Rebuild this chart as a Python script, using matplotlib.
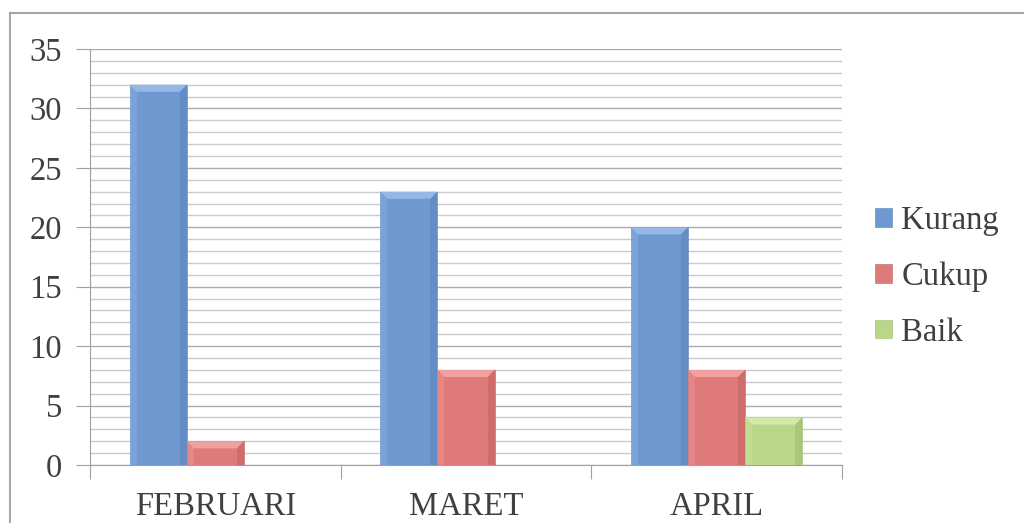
import matplotlib.pyplot as plt
import numpy as np
from matplotlib.patches import Polygon, Rectangle
from matplotlib.ticker import MultipleLocator

categories = ["FEBRUARI", "MARET", "APRIL"]
series = ["Kurang", "Cukup", "Baik"]
kurang = [32, 23, 20]
cukup = [2, 8, 8]
baik = [0, 0, 4]

colors = ["#6E99D0", "#DE7A79", "#BAD688"]
light = ["#94B8E6", "#F0A09F", "#D4E9AC"]
dark = ["#5A83BA", "#C2615F", "#9CB86C"]

plt.rcParams["font.family"] = ["Liberation Serif", "DejaVu Serif"]

fig = plt.figure(figsize=(10.24, 5.23), dpi=100)
ax = fig.add_axes([90 / 1024, 1 - 465 / 523, 752 / 1024, 416 / 523])

# chart frame
fig.patches.append(Rectangle((10 / 1024, -0.05), 1.1, 1 - 13 / 523 + 0.05,
                             transform=fig.transFigure, fill=False,
                             edgecolor="#A6A6A6", linewidth=1.5))

x = np.arange(len(categories))
w = 0.228
data = [kurang, cukup, baik]
bx = 0.028  # bevel depth in x (data units)
by = 0.6    # bevel depth in y

for i, (vals, name) in enumerate(zip(data, series)):
    bars = ax.bar(x + (i - 1) * w, vals, w, color=colors[i], label=name,
                  edgecolor=dark[i], linewidth=0.4, zorder=3)
    for b in bars:
        h = b.get_height()
        if h <= 0:
            continue
        x0, x1 = b.get_x(), b.get_x() + b.get_width()
        d = min(by, h / 3)
        ax.add_patch(Polygon([(x0, h), (x1, h), (x1 - bx, h - d), (x0 + bx, h - d)],
                             closed=True, facecolor=light[i], edgecolor="none",
                             zorder=4))
        ax.add_patch(Polygon([(x1, h), (x1, 0), (x1 - bx, 0), (x1 - bx, h - d)],
                             closed=True, facecolor=dark[i], edgecolor="none",
                             alpha=0.5, zorder=4))
        ax.add_patch(Polygon([(x0, h), (x0, 0), (x0 + bx, 0), (x0 + bx, h - d)],
                             closed=True, facecolor=light[i], edgecolor="none",
                             alpha=0.35, zorder=4))

ax.set_xlim(-0.5, 2.5)
ax.set_ylim(0, 35)
ax.yaxis.set_major_locator(MultipleLocator(5))
ax.yaxis.set_minor_locator(MultipleLocator(1))
ax.grid(axis="y", which="minor", color="#CBCBCB", linewidth=1.0, zorder=0)
ax.grid(axis="y", which="major", color="#ADADAD", linewidth=1.0, zorder=0)
ax.set_axisbelow(True)

ax.set_xticks([-0.5, 0.5, 1.5, 2.5])
ax.set_xticklabels([])
ax.set_xticks(x, minor=True)
ax.set_xticklabels(categories, minor=True, fontsize=23.5, color="#404040")
ax.tick_params(axis="x", which="major", length=10, color="#A0A0A0", direction="out")
ax.tick_params(axis="x", which="minor", length=0, pad=19)
ax.tick_params(axis="y", which="major", length=10, color="#A0A0A0",
               labelsize=23.5, labelcolor="#404040", pad=10)
ax.tick_params(axis="y", which="minor", length=0)

for s in ["top", "right"]:
    ax.spines[s].set_visible(False)
ax.spines["left"].set_color("#A0A0A0")
ax.spines["bottom"].set_color("#A0A0A0")

leg = ax.legend(loc="center left", bbox_to_anchor=(1.027, 0.453), frameon=False,
                fontsize=23.5, handlelength=0.5, handleheight=0.5,
                handletextpad=0.3, labelspacing=0.78, borderaxespad=0)
for t in leg.get_texts():
    t.set_color("#404040")

fig.savefig("out.png", dpi=100)
